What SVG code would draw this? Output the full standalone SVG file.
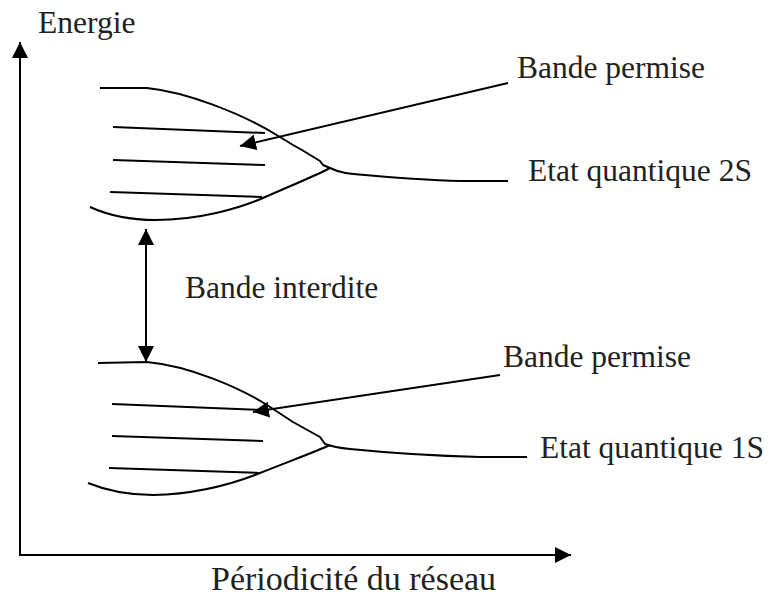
<svg xmlns="http://www.w3.org/2000/svg" width="769" height="598" viewBox="0 0 769 598">
  <style>
    .t { font-family: "Liberation Serif", "Times New Roman", serif; font-size: 31.5px; fill: #222; }
    .xl { font-size: 34px; }
    .c { fill: none; stroke: #000; stroke-width: 2; stroke-linejoin: round; }
    .a { fill: none; stroke: #000; stroke-width: 2; }
  </style>
  <defs>
    <marker id="ah" viewBox="0 0 16 16" refX="16" refY="8" markerWidth="16" markerHeight="16" markerUnits="userSpaceOnUse" orient="auto-start-reverse">
      <path d="M0,0 L16,8 L0,16 z" fill="#000"/>
    </marker>
  </defs>
  <rect width="769" height="598" fill="#fff"/>

  <g id="axes">
    <line class="a" x1="20" y1="556" x2="20" y2="42" marker-end="url(#ah)"/>
    <line class="a" x1="19" y1="555" x2="571" y2="555" marker-end="url(#ah)"/>
    <text class="t" x="38" y="33">Energie</text>
    <text class="t xl" x="211" y="590">Périodicité du réseau</text>
  </g>

  <g id="band-2s">
    <path class="c" d="M100,88 L147,88 C185,92 240,112 280,137 L293,145 L302,150 L320,161 L323,165 L330,168 C340,173 350,174 365,175 C400,178 440,181 470,181 L508,181"/>
    <path class="c" d="M90,207 C110,216 130,220 155,220 C200,220 240,208 263,198 C290,186 315,176 330,168"/>
    <line class="a" x1="113" y1="127" x2="265" y2="133"/>
    <line class="a" x1="113" y1="160" x2="265" y2="165"/>
    <line class="a" x1="110" y1="192" x2="262" y2="197"/>
    <text class="t" x="517" y="78">Bande permise</text>
    <text class="t" x="528" y="181">Etat quantique 2S</text>
  </g>

  <g id="band-1s">
    <path class="c" d="M98,363 L147,362 C190,366 240,388 267,405 L293,422 L320,437 L325,444 C333,447 340,448 350,449 C400,454 440,456 480,457 L527,457"/>
    <path class="c" d="M88,483 C110,492 130,495 153,495 C200,494 235,483 260,473 C290,461 315,452 330,445"/>
    <line class="a" x1="112" y1="404" x2="263" y2="410"/>
    <line class="a" x1="112" y1="436" x2="263" y2="441"/>
    <line class="a" x1="109" y1="468" x2="260" y2="473"/>
    <text class="t" x="503" y="367">Bande permise</text>
    <text class="t" x="540" y="458">Etat quantique 1S</text>
  </g>

  <g id="gap">
    <text class="t" x="185" y="298">Bande interdite</text>
  </g>

  <g id="connectors">
    <line class="a" x1="508" y1="83" x2="240" y2="146" marker-end="url(#ah)"/>
    <line class="a" x1="500" y1="375" x2="253" y2="412" marker-end="url(#ah)"/>
    <line class="a" x1="146" y1="229" x2="146" y2="362" marker-start="url(#ah)" marker-end="url(#ah)"/>
  </g>
</svg>
